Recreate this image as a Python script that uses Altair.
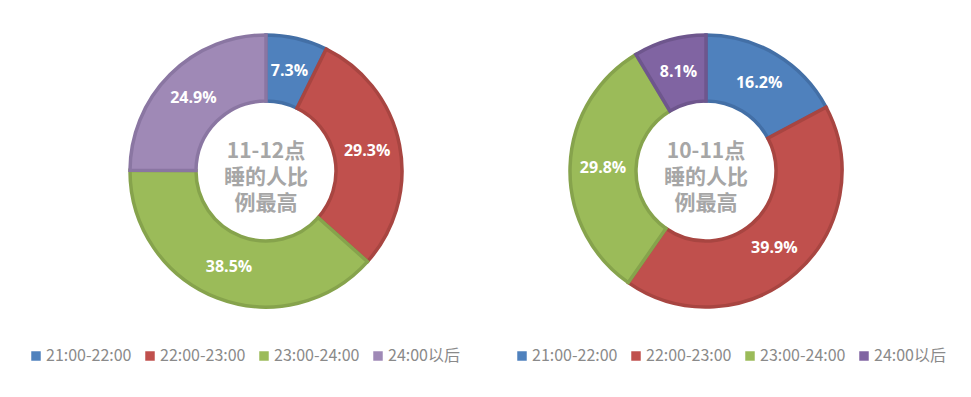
import altair as alt
import pandas as pd

categories = ["21:00-22:00", "22:00-23:00", "23:00-24:00", "24:00以后"]
left_values = [7.3, 29.3, 38.5, 24.9]
right_values = [16.2, 39.9, 29.8, 8.1]
left_center = ["11-12点", "睡的人比", "例最高"]
right_center = ["10-11点", "睡的人比", "例最高"]

fill_left = ["#4F81BD", "#C0504D", "#9BBB59", "#9F89B6"]
stroke_left = ["#436FA6", "#A84541", "#86A34C", "#8A76A2"]
fill_right = ["#4F81BD", "#C0504D", "#9BBB59", "#8064A2"]
stroke_right = ["#436FA6", "#A84541", "#86A34C", "#6E568D"]

W, H = 477, 381
CY = 163
LABEL_FONT = "Noto Sans CJK SC"


def donut(values, center_text, fills, strokes, cx, legend_x):
    df = pd.DataFrame({
        "cat": categories,
        "val": values,
        "idx": list(range(len(categories))),
        "label": [f"{v:.1f}%" for v in values],
    })
    base = alt.Chart(df).encode(
        theta=alt.Theta("val:Q", stack=True),
        order=alt.Order("idx:Q"),
    )
    arcs = base.mark_arc(outerRadius=136, innerRadius=70, strokeWidth=3.5).encode(
        x=alt.value(cx),
        y=alt.value(CY),
        color=alt.Color(
            "cat:N",
            scale=alt.Scale(domain=categories, range=fills),
            legend=alt.Legend(
                orient="none", legendX=legend_x, legendY=CY + 177,
                direction="horizontal", columns=4, title=None,
                symbolType="square", symbolSize=90, symbolStrokeWidth=0,
                labelFont=LABEL_FONT, labelFontSize=16, labelColor="#8a8a8a",
                labelOffset=2, columnPadding=10, padding=0,
            ),
            sort=categories,
        ),
        stroke=alt.Stroke(
            "cat:N",
            scale=alt.Scale(domain=categories, range=strokes),
            legend=None,
            sort=categories,
        ),
    )
    labels = base.mark_text(
        radius=103, font="Open Sans", fontSize=16, fontWeight="bold",
        color="white", align="center", baseline="middle",
    ).encode(
        x=alt.value(cx),
        y=alt.value(CY),
        text="label:N",
    )
    center_df = pd.DataFrame({"line": center_text, "row": [0, 1, 2]})
    center = alt.Chart(center_df).mark_text(
        font=LABEL_FONT, fontSize=21, fontWeight="bold",
        color="#a6a6a6", align="center", baseline="middle",
    ).encode(
        x=alt.value(cx),
        y=alt.Y("row:Q", scale=alt.Scale(domain=[0, 2], range=[CY - 19, CY + 33]), axis=None),
        text="line:N",
    )
    return alt.layer(arcs, labels, center).properties(width=W, height=H)


left = donut(left_values, left_center, fill_left, stroke_left, 258, 20)
right = donut(right_values, right_center, fill_right, stroke_right, 221, 29)

chart = (
    alt.hconcat(left, right, spacing=0)
    .resolve_scale(color="independent", stroke="independent", theta="independent", y="independent")
    .properties(padding=0, background="white")
    .configure_view(strokeWidth=0)
)

chart.save("out.html", embed_options={"renderer": "svg", "actions": False})
